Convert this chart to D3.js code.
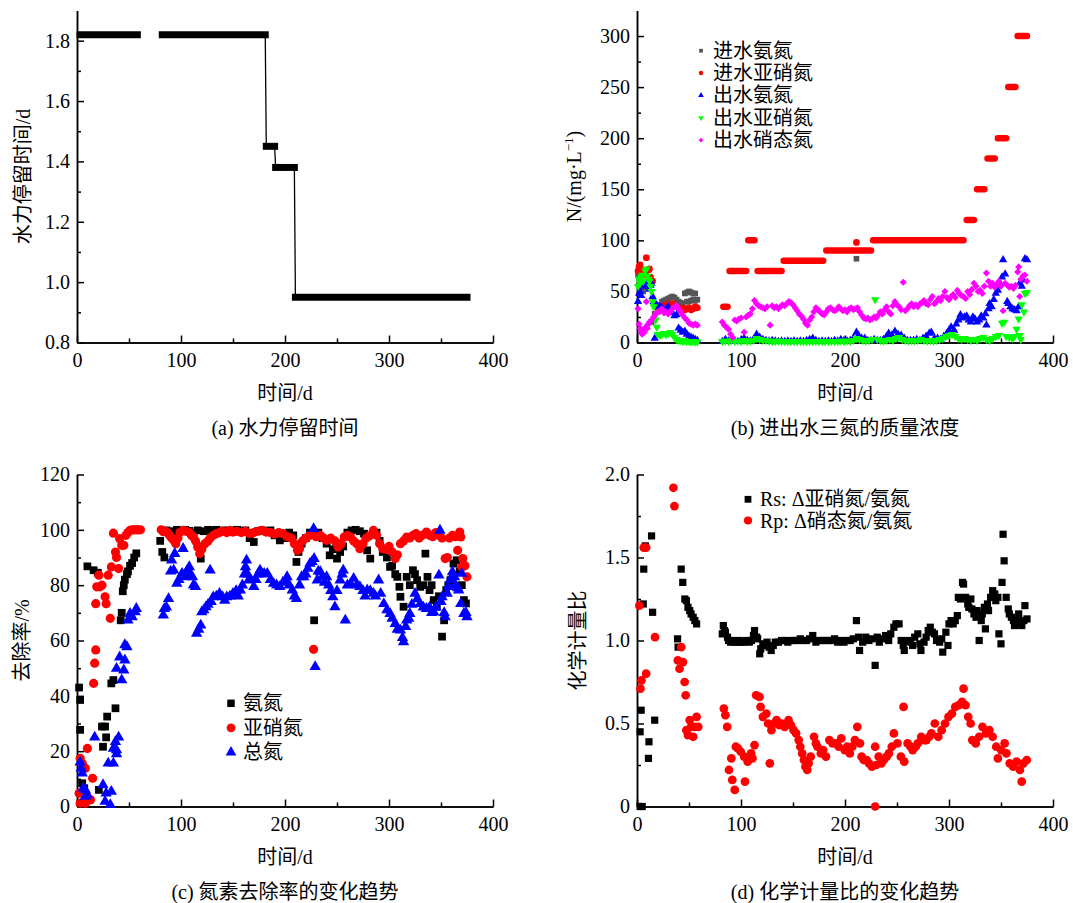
<!DOCTYPE html>
<html><head><meta charset="utf-8">
<script src="https://cdn.jsdelivr.net/npm/d3@7"></script>
<style>
body{margin:0;background:#fff;}
svg text{font-family:"Liberation Serif","Times New Roman","Noto Sans CJK SC",serif;fill:#000;}
</style></head><body>
<svg id="c" width="1073" height="903"></svg>
<script>
// ---------------- DATA ----------------
const xTicks = [0,100,200,300,400];
const xMinor = [50,150,250,350];
const xLabel = "时间/d";

// (a) hydraulic retention time runs
const hrtStart = [3,82,182,191,210];
const hrtEnd   = [58,181,190,209,375];
const hrtValue = [1.82,1.82,1.45,1.38,0.95];
const aTicks = [0.8,1.0,1.2,1.4,1.6,1.8];
const aMinor = [0.9,1.1,1.3,1.5,1.7];

// (b) concentrations
const bTicks = [0,50,100,150,200,250,300];
const bMinor = [25,75,125,175,225,275];
const bLegend = ["进水氨氮","进水亚硝氮","出水氨氮","出水亚硝氮","出水硝态氮"];
const bInNH4 = [[1,66],[2,64],[3,58],[4,52],[6,50],[10,54],[14,20],[17,28],[20,30],[22,36],[24,40],[26,41],[28,42],[30,43],[32,44],[34,45],[36,44],[38,42],[40,40],[42,39],[44,38],[46,48],[48,49],[50,50],[52,49],[54,48],[56,48],[48,40],[50,40],[52,41],[54,42],[56,41],[58,42],[211,82]];
const bInNO2Start = [83,89,107,116,141,182,227,317,327,337,347,357,366];
const bInNO2End   = [87,105,113,139,179,225,314,324,334,344,355,364,375];
const bInNO2Level = [35,70,100,70,80,90,100,120,150,180,200,250,300];
const bInNO2Pts = [[1,70],[2,74],[3,76],[4,72],[6,66],[8,68],[9,83],[11,71],[12,72],[13,64],[15,60],[20,33],[22,34],[24,35],[26,36],[28,37],[30,35],[32,37],[34,38],[36,36],[38,35],[40,34],[42,33],[44,34],[46,32],[48,33],[50,34],[52,32],[54,33],[56,35],[58,34],[211,98]];
const bOutNH4 = [[1,40],[2,48],[3,50],[4,46],[6,55],[8,58],[10,57],[12,52],[13,56],[14,58],[15,45],[16,40],[17,4],[18,38],[20,36],[22,35],[24,34],[26,32],[28,33],[30,35],[32,30],[34,29],[36,26],[38,27],[40,14],[42,12],[44,10],[46,11],[48,8],[50,6],[52,5],[54,4],[56,3],[58,2],
[82,1],[85,3],[88,1.5],[91,1],[94,1.5],[97,1],[100,2],[103,4],[106,2],[109,1.5],[112,3],[115,8],[118,5],[121,3],[124,2],[127,1.5],[130,2],[133,1.5],[136,1],[139,1.5],[142,1],[145,1.5],[148,1],[151,1.5],[154,1],[157,1.5],[160,1],[163,2],[166,3],[169,4],[172,2],[175,1],[178,1.5],[181,1],[184,1.5],[187,1],[190,2],[193,1.5],[196,3],[199,2],[202,1.5],[205,2],[208,4],[211,10],[213,7],[216,4],[219,4],[222,2],[225,2],[228,3],[231,2],[234,2],[237,3],[240,6],[242,9],[245,7],[248,11],[251,8],[254,7],[257,4],[260,2],[263,2],[266,2],[269,3],[272,2],[275,4],[278,6],[281,9],[283,10],[286,4],[289,4],[292,3],[295,6],[298,9],[300,12],[302,15],[305,12],[307,18],[309,22],[311,27],[313,24],[315,25],[317,26],[319,22],[321,20],[323,25],[325,23],[327,20],[329,22],[331,26],[333,24],[335,28],[336,17],[338,33],[339,38],[341,35],[343,42],[345,48],[347,51],[349,58],[351,64],[352,81],[354,67],[356,40],[357,38],[359,35],[361,33],[363,32],[365,31],[367,35],[368,58],[370,55],[371,61],[373,82],[375,81]];
const bOutNO2 = [[1,55],[2,62],[3,58],[4,64],[5,66],[6,60],[8,70],[9,72],[10,65],[11,62],[12,60],[13,55],[14,50],[15,40],[16,35],[18,22],[19,15],[20,8],[22,7],[24,8],[26,9],[28,8],[30,9],[32,10],[34,8],[36,5],[38,3],[40,2],[42,2],[44,1],[46,2],[48,1],[50,1],[52,0.5],[54,1],[56,0.5],[58,0.5],
[82,1],[85,1.5],[88,1],[91,2],[94,1],[97,1.5],[100,1],[103,2],[106,1],[109,1.5],[112,2],[115,4],[118,3],[121,2],[124,2],[127,1.5],[130,1],[133,1],[136,1.5],[139,1],[142,1],[145,1],[148,1],[151,1],[154,1],[157,1],[160,1],[163,1],[166,1],[169,1],[172,1],[175,1],[178,1],[181,1],[184,1],[187,1],[190,1],[193,1],[196,1.5],[199,1],[202,1.5],[205,1],[208,2],[211,4],[214,3],[217,2],[220,1.5],[223,2],[226,3],[229,42],[231,3],[234,2],[237,1.5],[240,2],[243,3],[246,2],[249,4],[252,5],[255,3],[258,2],[261,1.5],[264,2],[267,1.5],[270,2],[273,3],[276,2],[279,1.5],[282,2],[285,1.5],[288,2],[291,3],[294,4],[297,6],[300,7],[303,8],[306,6],[309,4],[312,3],[315,4],[318,3],[321,2],[324,3],[327,2],[330,4],[333,5],[336,3],[339,2],[342,4],[345,6],[348,7],[351,19],[353,20],[355,6],[358,5],[361,4],[363,6],[365,13],[367,23],[368,7],[369,3],[370,37],[372,30],[373,48],[375,49]];
const bOutNO3 = [[1,33],[2,18],[3,14],[4,10],[5,8],[6,12],[7,10],[8,15],[9,40],[10,14],[11,18],[12,20],[14,22],[16,25],[18,28],[20,30],[22,31],[24,33],[26,29],[28,30],[30,28],[32,30],[34,33],[36,35],[38,36],[40,33],[42,30],[44,27],[46,24],[48,22],[50,19],[52,18],[54,17],[56,18],[58,17],
[82,20],[84,17],[86,15],[88,13],[90,8],[92,5],[94,22],[96,21],[98,23],[100,24],[103,10],[105,25],[107,27],[109,28],[111,33],[113,41],[115,38],[117,36],[119,35],[121,34],[123,33],[125,35],[128,17],[130,36],[132,34],[134,35],[136,33],[138,35],[140,37],[142,36],[144,38],[146,40],[148,39],[150,37],[152,34],[154,31],[156,28],[158,26],[160,23],[162,19],[164,17],[166,22],[168,25],[170,30],[172,34],[174,32],[176,30],[178,28],[180,27],[182,30],[184,33],[186,34],[188,32],[190,31],[192,32],[194,35],[196,33],[198,31],[200,32],[202,30],[204,33],[206,34],[208,32],[210,33],[212,34],[214,30],[216,27],[218,24],[220,23],[222,24],[224,22],[226,23],[228,25],[230,24],[232,27],[234,30],[236,28],[238,32],[240,35],[242,30],[244,28],[246,36],[248,40],[250,37],[252,35],[254,32],[256,59],[258,31],[260,33],[262,36],[264,38],[266,35],[268,37],[270,35],[272,38],[274,39],[276,41],[278,38],[280,37],[282,42],[284,45],[286,38],[288,40],[290,43],[292,41],[294,45],[296,50],[298,44],[300,42],[302,45],[304,47],[306,44],[308,51],[310,48],[312,46],[314,45],[316,43],[318,50],[320,47],[322,52],[324,58],[326,55],[328,50],[330,51],[332,48],[334,55],[336,68],[338,60],[340,55],[342,58],[344,54],[346,57],[348,60],[350,55],[352,31],[354,58],[356,56],[358,54],[360,55],[362,53],[364,56],[366,69],[367,74],[368,45],[369,62],[371,65],[373,66],[375,60]];

// (c) removal efficiency
const cTicks = [0,20,40,60,80,100,120];
const cMinor = [10,30,50,70,90,110];
const cLegend = ["氨氮","亚硝氮","总氮"];
const cNH4 = [[2,43],[3,38.5],[3,27.7],[5,8.4],[7,6.6],[10,86.8],[12,2.4],[16,85.4],[20,84.5],[21,6],[24,28.9],[25,21.6],[27,28.9],[28,25],[29,32.5],[33,44.5],[35,45.7],[37,35.5],[42,67.3],[43,70],[44,77.8],[45,80],[46,82],[48,84],[49,85],[51,87],[53,88],[55,90],[57,91.5],
[80,96],[82,92],[84,90],[86,99.8],[88,99],[92,99.5],[96,100],[100,99.7],[104,100],[108,99.6],[112,99],[116,99.8],[117,94],[119,89.6],[122,99.5],[126,100],[130,99.8],[134,100],[138,99.6],[142,99.8],[146,99.5],[150,99.8],[154,100],[158,99.5],[162,99.8],[166,97],[170,95.6],[174,99.5],[178,99.8],[182,99.5],[186,99.8],[190,98],[195,96.2],[200,97],[204,99],[208,98],[211,88.4],[213,92],[216,95],[220,97],[224,99],[228,67.3],[232,99],[236,97],[240,95],[243,90.8],[246,93],[250,89.6],[253,92],[256,94],[260,99],[264,99.8],[268,100],[272,99.5],[276,98.6],[279,92.6],[282,89.6],[285,98.6],[288,99],[291,96],[294,92],[298,90],[301,86.6],[303,87],[306,84],[308,83],[310,79.4],[311,75.8],[314,72.2],[317,83],[320,80],[323,85.4],[325,84],[327,81.8],[330,79.4],[333,80],[335,91.4],[337,83],[339,78.2],[341,80],[343,74.6],[346,72.2],[348,76],[351,61.4],[353,67.3],[355,78.2],[357,80],[359,81.8],[362,87.8],[365,89],[368,85],[370,80],[372,74.6],[374,73.4]];
const cNO2 = [[2,4.8],[3,1.2],[3,17.4],[5,15.6],[6,14.4],[8,13.8],[8,1.2],[10,21],[11,2.4],[13,2.4],[15,10.2],[16,44.5],[17,51.8],[18,56.6],[18,73.3],[19,79.4],[21,83.6],[22,79.4],[24,80],[27,75.8],[28,73.3],[30,83.6],[32,68],[33,86.6],[35,98.8],[37,92],[38,90],[40,86],[41,96.8],[43,94.4],[45,94.4],[47,98],[49,99],[51,99.8],[53,100],[55,100],[57,100],[59,100],[61,100],
[81,100],[83,99.3],[85,99.5],[87,99],[89,98],[91,97],[93,96.2],[95,95],[97,97],[99,99],[102,99.8],[105,99.5],[108,99],[110,98],[112,97.4],[114,96],[116,93.8],[118,91.4],[120,93],[123,95],[126,96],[128,97],[131,98],[134,98.6],[137,99],[140,99.5],[144,99],[147,99.8],[150,99.2],[154,99.5],[158,99],[162,99.5],[166,98.6],[170,99],[174,99.5],[178,99.8],[182,99.2],[186,99],[190,98.5],[194,99],[198,98.6],[202,97.5],[206,97],[209,95],[212,92.6],[214,93.2],[217,96],[220,97],[224,98],[227.5,56.8],[230,97.5],[234,98],[237,97],[240,96.2],[244,97],[248,96],[251,93.8],[254,95],[257,97.4],[260,98],[263,97.4],[266,96],[269,95],[272,93.2],[275,95],[278,97],[281,97.8],[285,99.8],[288,98],[291,95],[294,93.2],[297,93],[300,94],[303,92],[306,89.6],[308,91],[311,95],[314,96],[317,97.4],[320,97],[323,98],[326,98.6],[329,97],[332,98],[336,99.2],[339,98],[342,97.5],[345,99],[348,98],[351,97],[354,89.6],[356,90],[358,97],[361,98],[364,97.5],[366,92.6],[368,99.2],[369,97.4],[370,86.6],[371,89.6],[373,87],[375,83]];
const cTN = [[3,16],[4,13.8],[5,12],[6,6.6],[8,3.6],[8,6],[10,4.2],[17,25],[25,7.8],[27,1.8],[28,4.8],[30,15.6],[32,0.6],[33,5.4],[35,15.6],[35,21],[37,23.4],[38,19],[38,20.4],[40,25],[38,49.9],[41,54],[43,45.7],[45,49.3],[46,52.9],[46,58.4],[48,57.7],[49,67.3],[51,69.7],[53,68.5],[56,70.3],[57,71.5],
[83,69.1],[84,71.5],[86,72],[88,75.1],[90,85],[91,89],[93,85.4],[94,91.4],[96,80.6],[98,82],[101,84.2],[102,93.2],[104,83],[106,85.4],[108,86.6],[109,84],[111,83],[112,80],[114,79.4],[115,62.5],[117,64],[119,65.5],[120,70.3],[122,71],[124,72.1],[126,73],[128,85.4],[129,74],[131,75.7],[134,76],[137,77],[140,75.7],[142,74.5],[144,75.7],[147,76],[150,77],[153,78],[155,76],[157,78.2],[159,80],[161,84],[162,86.6],[163,89],[164,84],[165,81.8],[167,82],[170,79.4],[172,82],[174,84],[176,85.4],[178,84],[180,84.2],[183,84.2],[186,82],[189,80.6],[192,80],[195,79.4],[198,81],[201,82],[202,83],[204,80],[207,78.2],[209,76],[211,75.1],[214,80],[216,83],[218,83],[220,84],[222,86],[224,87.8],[226,88.5],[227.5,100.4],[228,89.6],[229,50.5],[231,81.8],[232,85],[234,84.8],[236,83],[238,81],[240,83],[242,80],[244,78],[246,75.7],[248,72.1],[250,78],[253,81.8],[255,84],[256,85.4],[258,67.3],[260,80],[263,80.5],[266,82.4],[269,80],[272,79.4],[275,78],[277,76],[279,78.2],[282,78],[285,77],[287,76],[290,81.8],[292,77],[295,73.3],[298,71],[301,69.7],[303,68],[306,66.1],[308,64],[311,63.7],[313,61],[314,59.5],[316,65],[317,67.3],[319,68],[320,69.7],[322,73],[325,77],[327,75],[330,73.3],[333,72],[336,71.5],[339,72],[341,70],[343,70.3],[345,72],[348,83.6],[349,99.8],[350,74],[351,75.7],[353,70],[354,68.5],[356,77],[357,79.4],[359,82],[361,84.8],[363,83],[364,80],[366,79],[367,78.2],[369,73.3],[370,84.2],[372,69.7],[374,70],[375,68.5]];

// (d) stoichiometric ratios
const dTicks = [0,0.5,1.0,1.5,2.0];
const dMinor = [0.25,0.75,1.25,1.75];
const dLegend = ["Rs: Δ亚硝氮/氨氮","Rp: Δ硝态氮/氨氮"];
const dRs = [[3,0],[5,0],[3,0.45],[4,0.58],[6,1.22],[6.5,1.43],[8,1.57],[14,1.63],[11.5,0.39],[11,0.29],[15,1.17],[17,0.52],
[39,1.01],[39.5,0.96],[42.5,1.43],[44,1.35],[46,1.25],[47.5,1.24],[49,1.2],[50.7,1.18],[52,1.16],[54,1.14],[55.6,1.12],[57.3,1.1],
[82,1.04],[83,1.09],[84,1.06],[85,1.05],[87,1.02],[88,1.0],[90,0.99],[92,1.0],[94,0.99],[96,0.99],[98,1.0],[100,0.99],[103,0.99],[105,1.0],[108,0.99],[110,1.0],[112,1.03],[113,1.06],[115,1.02],[116,1.01],[118,0.92],[119,0.95],[121,0.98],[123,0.97],[125,0.99],[127,0.96],[129,0.94],[131,0.97],[133,0.99],[136,0.99],[139,1.0],[142,1.0],[145,0.99],[148,1.0],[151,1.0],[154,1.0],[157,1.01],[160,1.0],[163,1.0],[166,1.01],[169,1.03],[172,0.99],[175,1.0],[178,1.0],[181,1.0],[184,1.0],[187,1.0],[190,1.01],[193,0.99],[196,1.0],[199,0.99],[202,1.0],[205,1.0],[208,1.01],[211,1.12],[213,1.02],[214,0.94],[217,0.99],[220,1.02],[223,1.0],[226,1.01],[229,0.85],[231,1.02],[233,0.99],[236,1.01],[239,1.03],[242,1.0],[244,1.04],[247,1.08],[249,1.1],[252,1.1],[254,1.0],[256,0.97],[257,0.94],[260,1.0],[263,0.99],[265,0.97],[267,1.02],[270,1.04],[272,0.98],[273,0.94],[276,0.99],[278,1.02],[280,1.06],[282,1.08],[284,1.05],[286,1.04],[288,1.0],[291,0.99],[293,1.01],[294,0.93],[297,1.05],[299,0.97],[300,1.1],[302,1.12],[304,1.1],[306,1.12],[308,1.15],[309,1.26],[311,1.25],[313,1.35],[314,1.34],[316,1.26],[318,1.22],[319,1.2],[321,1.25],[322,1.19],[324,1.16],[326,1.14],[327,1.18],[329,1.0],[331,1.12],[332,1.16],[334,1.2],[335,1.07],[337,1.22],[338,1.18],[340,1.26],[342,1.3],[344,1.28],[345,1.24],[347,1.26],[348,1.04],[350,0.98],[351,1.35],[352,1.64],[353,1.48],[355,1.26],[357,1.19],[358,1.16],[360,1.14],[362,1.12],[363,1.09],[365,1.1],[367,1.16],[368,1.12],[370,1.09],[372,1.12],[373,1.21],[375,1.13]];
const dRp = [[2.3,1.21],[3.3,0.71],[4.3,0.76],[6.5,1.56],[8.8,1.56],[8.8,0.8],[17.3,1.02],
[35,1.92],[36,1.81],[39.3,0.88],[40.9,0.83],[42.5,0.96],[44.2,0.87],[45.8,0.75],[46.8,0.67],[47.5,0.46],[49,0.43],[50.7,0.52],[52,0.48],[54,0.42],[55.6,0.48],[57.3,0.54],[58.9,0.48],
[83.5,0.59],[85,0.55],[86.7,0.48],[88.4,0.22],[90.7,0.29],[91.6,0.16],[94,0.1],[95,0.36],[97,0.35],[99.8,0.33],[103,0.3],[103.8,0.15],[106.4,0.27],[108,0.3],[109.7,0.32],[111,0.29],[113,0.37],[114.6,0.67],[117.8,0.66],[118.8,0.6],[121,0.54],[124.4,0.56],[126,0.5],[127.7,0.26],[129.3,0.46],[132,0.5],[134.2,0.52],[137,0.49],[139,0.5],[142,0.48],[145.7,0.52],[148,0.49],[150.6,0.46],[153,0.44],[155.5,0.4],[157,0.36],[158.8,0.32],[160.5,0.28],[162,0.24],[163.7,0.22],[165,0.26],[167,0.3],[170.2,0.42],[172,0.38],[173.5,0.36],[176.8,0.32],[179,0.34],[181.7,0.3],[185,0.4],[188,0.38],[191.5,0.38],[194,0.36],[196.4,0.41],[199.7,0.34],[202,0.36],[204.6,0.32],[207,0.36],[209.5,0.4],[211.8,0.48],[214.4,0.38],[216,0.3],[218,0.28],[221,0.28],[223,0.26],[225.9,0.24],[229,0],[229,0.36],[230,0.25],[232.4,0.3],[235,0.26],[237.3,0.28],[240,0.3],[242.2,0.32],[245,0.36],[247,0.44],[250.4,0.38],[253.7,0.3],[256.3,0.6],[257,0.27],[260.2,0.38],[263,0.36],[265.1,0.34],[268,0.36],[270,0.38],[273.3,0.42],[276,0.4],[278.2,0.4],[281,0.42],[283.1,0.44],[286.4,0.5],[289.7,0.42],[292.9,0.46],[296.2,0.5],[299.5,0.54],[302.8,0.56],[306,0.6],[309.3,0.61],[312.6,0.63],[314,0.71],[315.9,0.61],[318.5,0.54],[320.8,0.5],[322.4,0.4],[325.7,0.38],[329,0.42],[332.2,0.48],[335.5,0.44],[338.8,0.46],[342,0.42],[345.4,0.36],[347,0.29],[350.2,0.34],[353.5,0.38],[355.2,0.32],[358.4,0.26],[361.7,0.24],[365,0.27],[368.2,0.22],[369.9,0.15],[371.5,0.26],[374.8,0.28]];

// ---------------- DRAW ----------------
const svg = d3.select("#c");
const PW = 416, PH = 332;

function makePanel(left, top, yDomain){
  const x = d3.scaleLinear().domain([0,400]).range([left, left+PW]);
  const y = d3.scaleLinear().domain(yDomain).range([top+PH, top]);
  return {x, y, left, top};
}

function axes(p, yT, yM, fmt){
  const g = svg.append("g");
  const style = sel => {
    sel.attr("font-size",20).attr("font-family",null);
    sel.selectAll(".domain").attr("stroke","#000").attr("stroke-width",1.5);
    sel.selectAll(".tick line").attr("stroke","#000").attr("stroke-width",1.5);
    sel.selectAll(".tick text").attr("fill","#000");
  };
  const bottom = p.y.range()[0];
  g.append("g").attr("transform",`translate(0,${bottom})`)
    .call(d3.axisBottom(p.x).tickValues(xMinor).tickSize(-4).tickSizeOuter(0).tickFormat(""))
    .call(style);
  g.append("g").attr("transform",`translate(0,${bottom})`)
    .call(d3.axisBottom(p.x).tickValues(xTicks).tickSize(-7).tickSizeOuter(0).tickPadding(10).tickFormat(d3.format("d")))
    .call(style);
  g.append("g").attr("transform",`translate(${p.left},0)`)
    .call(d3.axisLeft(p.y).tickValues(yM).tickSize(-4).tickSizeOuter(0).tickFormat(""))
    .call(style);
  g.append("g").attr("transform",`translate(${p.left},0)`)
    .call(d3.axisLeft(p.y).tickValues(yT).tickSize(-7).tickSizeOuter(0).tickPadding(7).tickFormat(fmt))
    .call(style);
  return g;
}

function labels(p, yLab, caption, yLabX, rich){
  const cx = p.left + PW/2, bottom = p.top + PH;
  svg.append("text").attr("x",cx).attr("y",bottom+57).attr("text-anchor","middle").attr("font-size",20).text(xLabel);
  svg.append("text").attr("x",cx).attr("y",bottom+92.5).attr("text-anchor","middle").attr("font-size",20).text(caption);
  const t = svg.append("text").attr("transform",`translate(${yLabX},${p.top+PH/2}) rotate(-90)`)
    .attr("text-anchor","middle").attr("font-size",20);
  if(rich){
    t.append("tspan").text("N/(mg·L");
    t.append("tspan").attr("font-size",13).attr("dy",-8).text("−1");
    t.append("tspan").attr("dy",8).text(")");
  } else t.text(yLab);
}

const sym = (type, size) => d3.symbol().type(type).size(size)();

function scatter(p, data, type, size, color, rot){
  svg.append("g").selectAll("path").data(data).join("path")
    .attr("d", sym(type,size))
    .attr("transform", d => `translate(${p.x(d[0])},${p.y(d[1])})${rot?` rotate(${rot})`:""}`)
    .attr("fill", color);
}

function legend(items, mx, tx, ys){
  items.forEach((it,i)=>{
    svg.append("path").attr("d", sym(it.type,it.size))
      .attr("transform",`translate(${mx},${ys[i]})${it.rot?` rotate(${it.rot})`:""}`).attr("fill",it.color);
    svg.append("text").attr("x",tx).attr("y",ys[i]+7).attr("font-size",20).text(it.label);
  });
}

// ---- (a)
const pa = makePanel(77, 10.5, [0.8,1.9]);
axes(pa, aTicks, aMinor, d3.format(".1f"));
labels(pa, "水力停留时间/d", "(a) 水力停留时间", 29.5);
const ga = svg.append("g");
hrtValue.forEach((v,i)=>{
  if(i>0 && hrtStart[i]-hrtEnd[i-1] <= 1){
    ga.append("line").attr("x1",pa.x(hrtEnd[i-1])).attr("x2",pa.x(hrtStart[i]))
      .attr("y1",pa.y(hrtValue[i-1])).attr("y2",pa.y(v)).attr("stroke","#000").attr("stroke-width",1.3);
  }
});
hrtValue.forEach((v,i)=>{
  ga.append("line").attr("x1",pa.x(hrtStart[i])).attr("x2",pa.x(hrtEnd[i]))
    .attr("y1",pa.y(v)).attr("y2",pa.y(v)).attr("stroke","#000").attr("stroke-width",7).attr("stroke-linecap","square");
});

// ---- (b)
const pb = makePanel(637, 10.5, [0,325]);
axes(pb, bTicks, bMinor, d3.format("d"));
labels(pb, "", "(b) 进出水三氮的质量浓度", 581, true);
scatter(pb, bInNH4, d3.symbolSquare, 32, "#555555");
const gb = svg.append("g");
bInNO2Level.forEach((v,i)=>{
  gb.append("line").attr("x1",pb.x(bInNO2Start[i])).attr("x2",pb.x(bInNO2End[i]))
    .attr("y1",pb.y(v)).attr("y2",pb.y(v)).attr("stroke","#ff0000").attr("stroke-width",6.5).attr("stroke-linecap","round");
});
scatter(pb, bInNO2Pts, d3.symbolCircle, 36, "#ff0000");
scatter(pb, bOutNH4, d3.symbolTriangle, 30, "#0000ff");
scatter(pb, bOutNO2, d3.symbolTriangle, 30, "#00ff00", 180);
scatter(pb, bOutNO3, d3.symbolSquare, 25, "#ff00ff", 45);
legend([
  {type:d3.symbolSquare,size:14,color:"#555555",label:bLegend[0]},
  {type:d3.symbolCircle,size:16,color:"#ff0000",label:bLegend[1]},
  {type:d3.symbolTriangle,size:14,color:"#0000ff",label:bLegend[2]},
  {type:d3.symbolTriangle,size:14,color:"#00ff00",label:bLegend[3],rot:180},
  {type:d3.symbolSquare,size:11,color:"#ff00ff",label:bLegend[4],rot:45}
], 701, 713, [50.7,72.9,95.4,117.8,140.2]);

// ---- (c)
const pc = makePanel(77, 474.5, [0,120]);
axes(pc, cTicks, cMinor, d3.format("d"));
labels(pc, "去除率/%", "(c) 氮素去除率的变化趋势", 28.5);
scatter(pc, cNH4, d3.symbolSquare, 60, "#000000");
scatter(pc, cNO2, d3.symbolCircle, 66, "#ff0000");
scatter(pc, cTN, d3.symbolTriangle, 56, "#0000ff");
legend([
  {type:d3.symbolSquare,size:56,color:"#000000",label:cLegend[0]},
  {type:d3.symbolCircle,size:60,color:"#ff0000",label:cLegend[1]},
  {type:d3.symbolTriangle,size:50,color:"#0000ff",label:cLegend[2]}
], 231, 243, [703.3,727.8,752.3]);

// ---- (d)
const pd = makePanel(637, 474.5, [0,2]);
axes(pd, dTicks, dMinor, d => d===0 ? "0" : d3.format(".1f")(d));
labels(pd, "化学计量比", "(d) 化学计量比的变化趋势", 585);
scatter(pd, dRs, d3.symbolSquare, 52, "#000000");
scatter(pd, dRp, d3.symbolCircle, 60, "#ff0000");
legend([
  {type:d3.symbolSquare,size:46,color:"#000000",label:dLegend[0]},
  {type:d3.symbolCircle,size:52,color:"#ff0000",label:dLegend[1]}
], 748, 760, [499.3,520.5]);
</script>
</body></html>
